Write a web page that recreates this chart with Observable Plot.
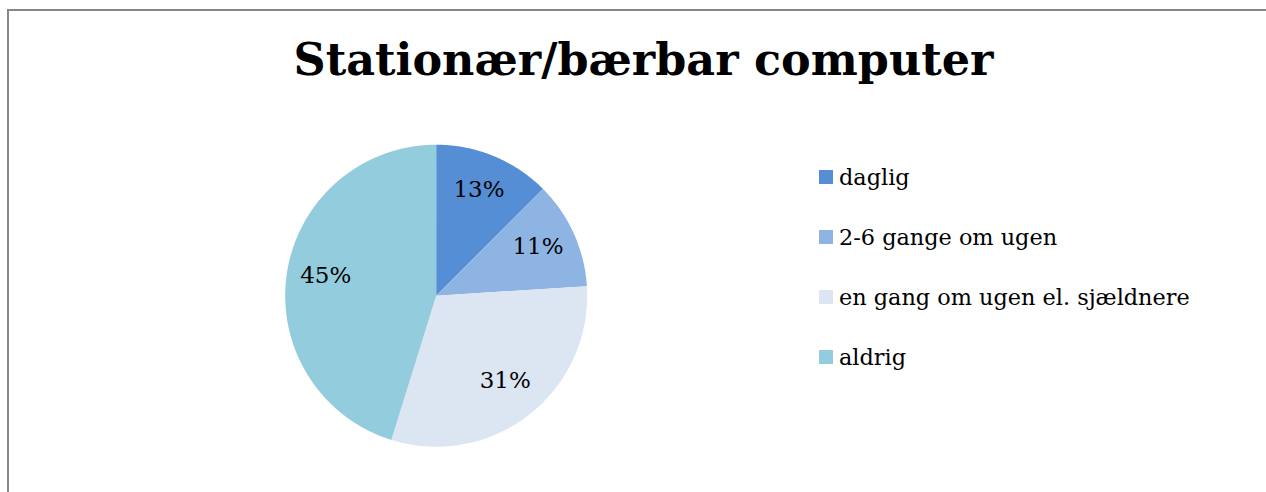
<!DOCTYPE html>
<html><head><meta charset="utf-8">
<script src="https://cdn.jsdelivr.net/npm/d3@7"></script>
<script src="https://cdn.jsdelivr.net/npm/@observablehq/plot@0.6"></script>
<style>
html,body{margin:0;padding:0;background:#fff;}
body{width:1266px;height:492px;overflow:hidden;position:relative;font-family:"DejaVu Serif",serif;}
#frame{position:absolute;left:7px;top:9px;width:1300px;height:520px;border-left:2px solid #878787;border-top:2px solid #878787;box-sizing:border-box;}
#chart{position:absolute;left:0;top:0;}
#legend{position:absolute;left:819px;top:147px;}
.item{height:60px;display:flex;align-items:center;color:#000;}
.sw{width:14px;height:14px;margin-right:6px;flex:none;}
</style>
</head><body>
<div id="frame"></div>
<div id="chart"></div>
<div id="legend"></div>
<script>
const title = "Stationær/bærbar computer";
const categories = ["daglig", "2-6 gange om ugen", "en gang om ugen el. sjældnere", "aldrig"];
const values = [12.5, 11.5, 30.8, 45.2];
const labels = ["13%", "11%", "31%", "45%"];
const colors = ["#558ED5", "#8EB4E3", "#DCE6F2", "#93CDDD"];

const fontFamily = "DejaVu Serif";
const ctx = document.createElement("canvas").getContext("2d");
function fit(text, weight, target) {
  ctx.font = `${weight} 100px "${fontFamily}"`;
  return 100 * target / ctx.measureText(text).width;
}
const titleSize = fit(title, "bold", 700);
const legendSize = fit(categories[2], "normal", 351);

// pie geometry from the values
const total = d3.sum(values);
const slices = [];
let acc = 0;
values.forEach((v, i) => {
  const a0 = acc / total * 2 * Math.PI;
  acc += v;
  const a1 = acc / total * 2 * Math.PI;
  slices.push({cat: categories[i], label: labels[i], a0, a1});
});
const pts = [];
for (const s of slices) {
  pts.push({cat: s.cat, x: 0, y: 0});
  const n = Math.max(2, Math.ceil((s.a1 - s.a0) / (Math.PI / 360)));
  for (let k = 0; k <= n; k++) {
    const a = s.a0 + (s.a1 - s.a0) * k / n;
    pts.push({cat: s.cat, x: Math.sin(a), y: Math.cos(a)});
  }
}
const lr = 0.74;
const labelPts = slices.map(s => {
  const m = (s.a0 + s.a1) / 2;
  return {label: s.label, x: lr * Math.sin(m), y: lr * Math.cos(m)};
});

const cx = 435.7, cy = 295.2, R = 151;
const chart = Plot.plot({
  width: 1266, height: 492,
  margin: 0,
  style: {background: "transparent", fontFamily: fontFamily},
  x: {domain: [-1, 1], range: [cx - R, cx + R], axis: null},
  y: {domain: [-1, 1], range: [cy + R, cy - R], axis: null},
  color: {domain: categories, range: colors},
  marks: [
    Plot.line(pts, {x: "x", y: "y", z: "cat", fill: "cat", stroke: "none", curve: "linear-closed"}),
    Plot.text(labelPts, {x: "x", y: "y", text: "label", fontSize: 23, fill: "#000", textAnchor: "middle", lineAnchor: "middle", dy: -3}),
    Plot.text([title], {frameAnchor: "top", dx: 10, dy: 74, lineAnchor: "bottom", text: d => d, fontSize: titleSize, fontWeight: "bold", fill: "#000"})
  ]
});
document.getElementById("chart").append(chart);

const legend = document.getElementById("legend");
categories.forEach((c, i) => {
  const it = document.createElement("div");
  it.className = "item";
  const sw = document.createElement("div");
  sw.className = "sw";
  sw.style.background = colors[i];
  const t = document.createElement("span");
  t.textContent = c;
  t.style.fontSize = legendSize + "px";
  t.style.fontFamily = `"${fontFamily}", serif`;
  t.style.lineHeight = "1";
  it.append(sw, t);
  legend.append(it);
});
</script>
</body></html>
